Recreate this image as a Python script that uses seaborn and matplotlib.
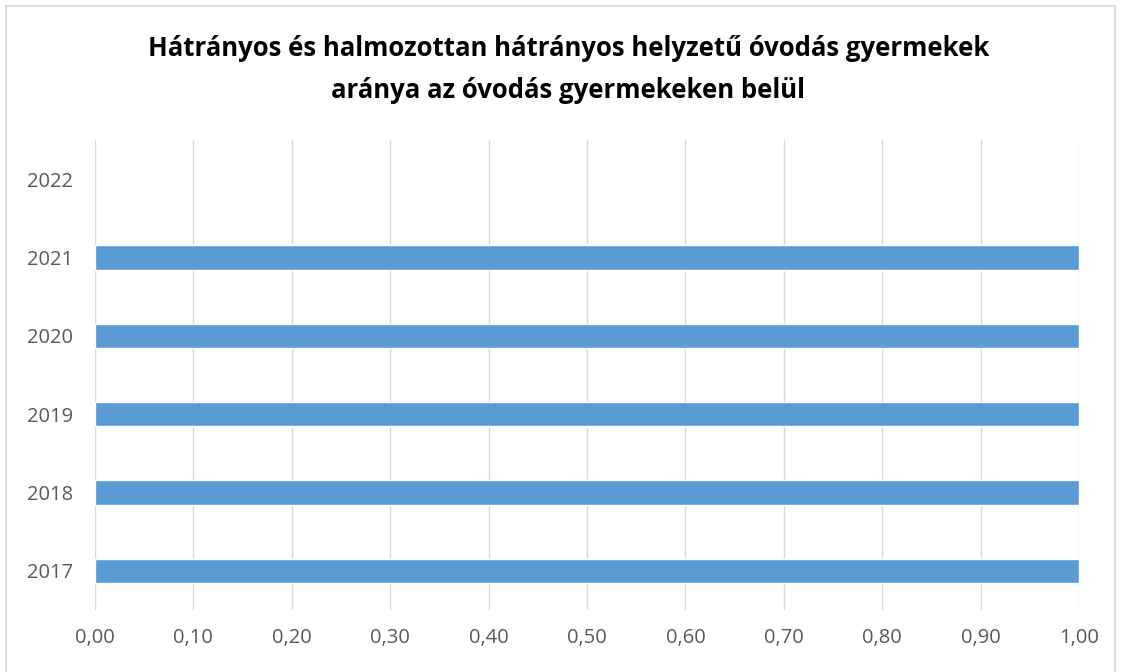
import numpy as np
import pandas as pd
import seaborn as sns
import matplotlib.pyplot as plt
from matplotlib.patches import Rectangle
from matplotlib.ticker import FuncFormatter

years = ['2017', '2018', '2019', '2020', '2021', '2022']
ratio = [1.0, 1.0, 1.0, 1.0, 1.0, np.nan]  # 2022 has no value

df = pd.DataFrame({'ev': years, 'arany': ratio})

sns.set_style('white')
plt.rcParams['font.family'] = ['Open Sans', 'DejaVu Sans']

fig = plt.figure(figsize=(11.23, 6.72), dpi=100)
ax = fig.add_axes([0.0846, 0.0923, 0.8762, 0.6994])

sns.barplot(x='arany', y='ev', data=df, order=years[::-1], color='#5B9BD5',
            saturation=1, width=0.31, ax=ax, errorbar=None)

ax.set_xlim(0, 1.0)
ax.set_xticks(np.arange(0, 1.01, 0.1))
ax.xaxis.set_major_formatter(FuncFormatter(lambda v, p: f'{v:.2f}'.replace('.', ',')))
ax.grid(axis='x', color='#D9D9D9', linewidth=1)
ax.set_axisbelow(True)
for s in ax.spines.values():
    s.set_visible(False)
ax.tick_params(axis='x', length=0, pad=13, labelsize=14.5, labelcolor='#595959')
ax.tick_params(axis='y', length=0, pad=16, labelsize=14.5, labelcolor='#595959')
ax.set_xlabel('')
ax.set_ylabel('')

fig.text(0.506, 0.928, 'Hátrányos és halmozottan hátrányos helyzetű óvodás gyermekek',
         ha='center', va='center', fontsize=18.5, fontweight='bold', color='black')
fig.text(0.506, 0.866, 'aránya az óvodás gyermekeken belül',
         ha='center', va='center', fontsize=18.5, fontweight='bold', color='black')

# chart border
fig.patches.append(Rectangle((6 / 1123, -0.01), 1109 / 1123, 1 - 6 / 672 + 0.01,
                             transform=fig.transFigure, fill=False,
                             edgecolor='#D9D9D9', linewidth=1.2))

fig.savefig('out.png', dpi=100)
